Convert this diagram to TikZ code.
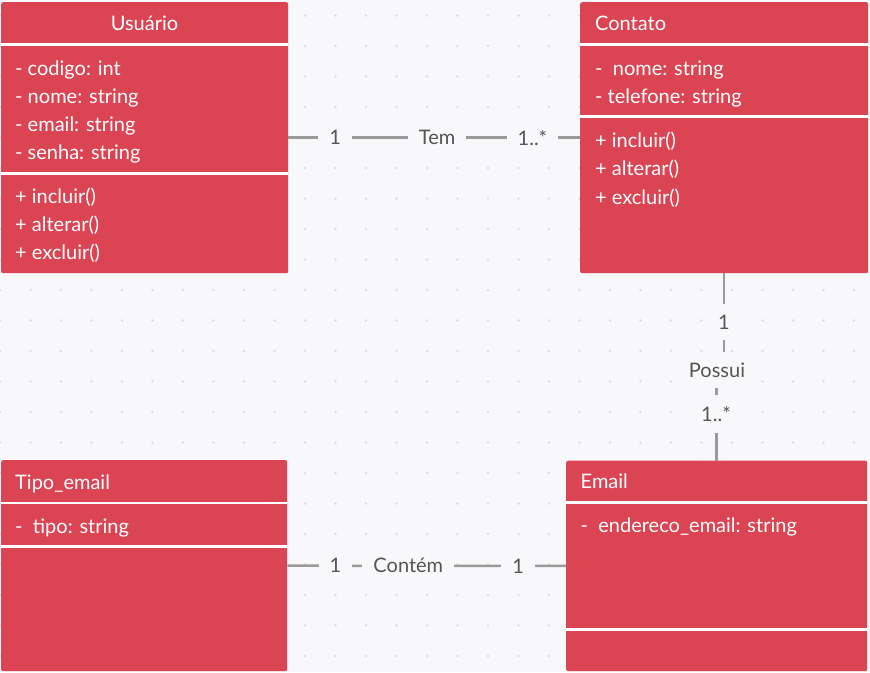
\documentclass[tikz,border=0pt]{standalone}
\usepackage{fontspec}
\setmainfont{Lato}
\definecolor{boxred}{HTML}{DA4453}
\definecolor{bgc}{HTML}{F8F8FA}
\definecolor{dotc}{HTML}{DDDDE2}
\definecolor{connc}{HTML}{9A9A9A}
\definecolor{lbltxt}{HTML}{555555}
\begin{document}
\begin{tikzpicture}[x=1pt,y=-1pt,
  cls/.style={fill=boxred, draw=none, rounded corners=2pt, anchor=north west, inner sep=0pt},
  sepbar/.style={fill=white},
  txt/.style={text=white, font=\fontsize{20}{24}\selectfont, anchor=base west, inner sep=0pt},
  lbl/.style={text=lbltxt, fill=bgc, font=\fontsize{20}{24}\selectfont, inner sep=11pt},
  connline/.style={draw=connc, line width=2.5pt}]
\fill[bgc] (0,0) rectangle (870,672);
\useasboundingbox (0,0) rectangle (870,672);
\foreach \i in {0,...,28} \foreach \j in {0,...,21} \fill[dotc] (\i*30.5, 15.5+\j*30.5) circle (1.4);

% boxes
\node[cls, minimum width=287pt, minimum height=271pt] (usuario) at (1,2) {};
\node[cls, minimum width=288pt, minimum height=271pt] (contato) at (580,2) {};
\node[cls, minimum width=286pt, minimum height=211pt] (tipo) at (1,460) {};
\node[cls, minimum width=301pt, minimum height=210.5pt] (email) at (566,460.5) {};

% separators
\fill[sepbar] (1,42.5) rectangle (288,45.5);
\fill[sepbar] (1,171.8) rectangle (288,174.8);
\fill[sepbar] (580,42.7) rectangle (868,45.7);
\fill[sepbar] (580,115) rectangle (868,118);
\fill[sepbar] (1,501.5) rectangle (287,504.3);
\fill[sepbar] (1,545) rectangle (287,548);
\fill[sepbar] (566,501.2) rectangle (867,504.3);
\fill[sepbar] (566,627.7) rectangle (867,630.8);

% Usuario texts
\node[txt, anchor=base] (uh) at (144.5,30) {Usuário};
\node[txt] (ua1) at (15,75) {- codigo: int};
\node[txt] (ua2) at (15,103.3) {- nome: string};
\node[txt] (ua3) at (15,131.5) {- email: string};
\node[txt] (ua4) at (15,159.5) {- senha: string};
\node[txt] (um1) at (15,203) {+ incluir()};
\node[txt] (um2) at (15,231) {+ alterar()};
\node[txt] (um3) at (15,259) {+ excluir()};

% Contato texts
\node[txt] (ch) at (595,30) {Contato};
\node[txt] (ca1) at (595,75) {- \ nome: string};
\node[txt] (ca2) at (595,103.3) {- telefone: string};
\node[txt] (cm1) at (595,147) {+ incluir()};
\node[txt] (cm2) at (595,175.5) {+ alterar()};
\node[txt] (cm3) at (595,204) {+ excluir()};

% Tipo_email texts
\node[txt] (th) at (15,489) {Tipo\_email};
\node[txt] (ta1) at (15,533) {- \ tipo: string};

% Email texts
\node[txt] (eh) at (580.5,488.5) {Email};
\node[txt] (ea1) at (580.5,532.5) {- \ endereco\_email: string};

% connectors
\draw[connline] (usuario.east) -- node[lbl,pos=0.16] (t1) {1} node[lbl,pos=0.51] (tem) {Tem} node[lbl,pos=0.837] (t2) {1..*} (contato.west);
\draw[connline] (tipo.east) -- node[lbl,pos=0.172] (k1) {1} node[lbl,pos=0.434] (contem) {Contém} node[lbl,pos=0.828] (k2) {1} (email.west);
\draw[connline] (contato.south) -- (contato.south |- 0,370) -| (email.north);
\node[lbl] (p1) at (724,322) {1};
\node[lbl] (possui) at (717,370) {Possui};
\node[lbl] (p2) at (716,414) {1..*};
\end{tikzpicture}
\end{document}
